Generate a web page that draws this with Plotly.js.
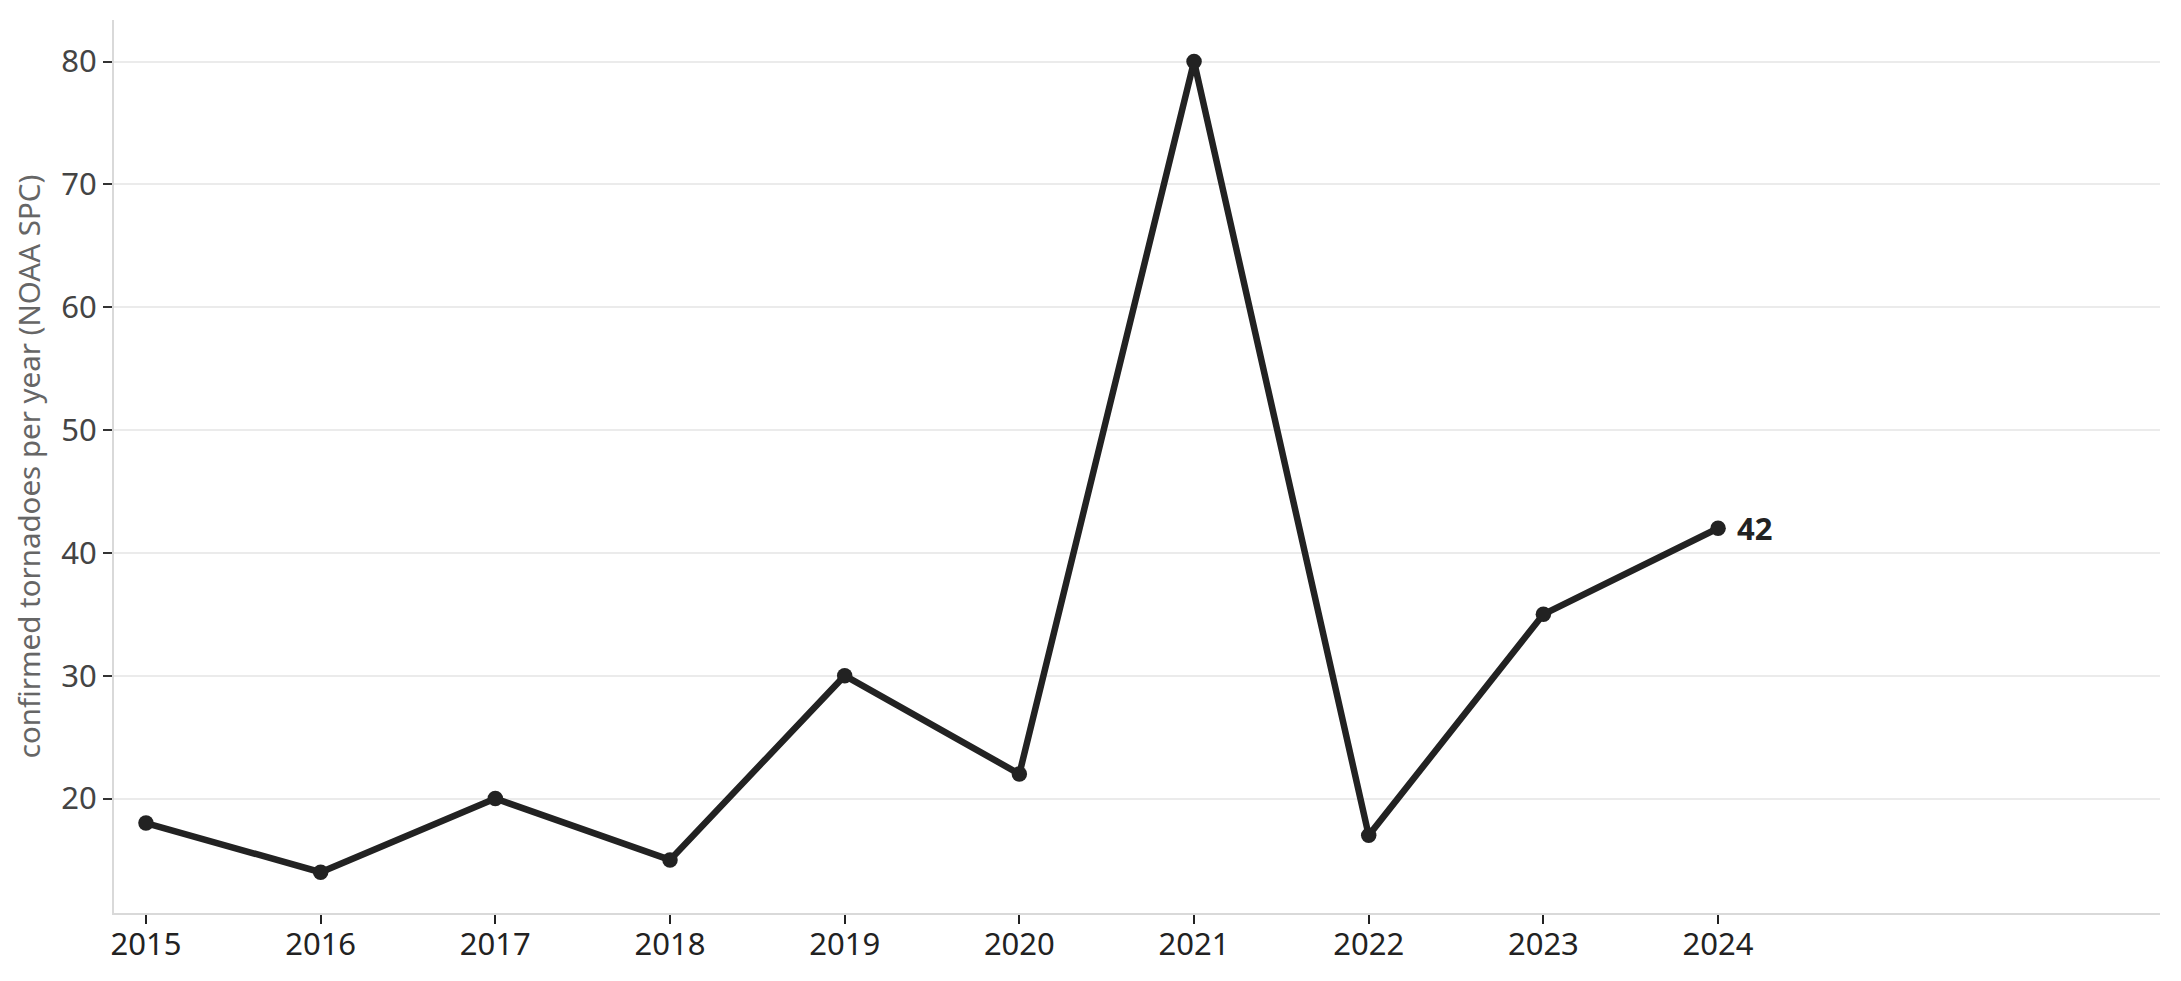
<!DOCTYPE html>
<html>
<head>
<meta charset="utf-8">
<script src="https://cdn.plot.ly/plotly-3.0.1.min.js"></script>
<style>
  html, body { margin: 0; padding: 0; background: #fff; }
  #chart { width: 2181px; height: 981px; }
</style>
</head>
<body>
<div id="chart"></div>
<script>
/* ---------------------------------------------------------------- */
/* DATA */
/* ---------------------------------------------------------------- */
var years = [2015, 2016, 2017, 2018, 2019, 2020, 2021, 2022, 2023, 2024];
var tornadoes = [18, 14, 20, 15, 30, 22, 80, 17, 35, 42];
var yTicks = [20, 30, 40, 50, 60, 70, 80];
var yLabel = 'confirmed tornadoes per year (NOAA SPC)';

var ink = '#222222';
var fontFam = '"Noto Sans", "Open Sans", sans-serif';

/* ---------------------------------------------------------------- */
/* CHART */
/* ---------------------------------------------------------------- */
var trace = {
  x: years,
  y: tornadoes,
  type: 'scatter',
  mode: 'lines+markers',
  line: { color: ink, width: 6.5 },
  marker: { color: ink, size: 15.5 },
  hoverinfo: 'skip'
};

var last = years.length - 1;

var layout = {
  width: 2181,
  height: 981,
  margin: { l: 114, r: 21, t: 20, b: 68 },
  paper_bgcolor: '#ffffff',
  plot_bgcolor: '#ffffff',
  showlegend: false,
  font: { family: fontFam, size: 31, color: ink },
  xaxis: {
    range: [2014.817, 2026.53],
    tickvals: years,
    ticktext: years.map(String),
    showgrid: false,
    zeroline: false,
    showline: true,
    linecolor: '#d9d9d9',
    linewidth: 2,
    ticks: 'outside',
    ticklen: 9,
    tickwidth: 2,
    tickcolor: ink,
    ticklabelstandoff: -6,
    tickfont: { family: fontFam, size: 31, color: ink }
  },
  yaxis: {
    range: [10.68, 83.38],
    tickvals: yTicks,
    showgrid: true,
    gridcolor: '#ebebeb',
    gridwidth: 2,
    zeroline: false,
    showline: true,
    linecolor: '#d9d9d9',
    linewidth: 2,
    ticks: 'outside',
    ticklen: 9,
    tickwidth: 2,
    tickcolor: '#333333',
    tickfont: { family: fontFam, size: 31, color: '#444444' },
    title: { text: yLabel, font: { family: fontFam, size: 29.5, color: '#666666' }, standoff: 12 }
  },
  annotations: [{
    x: years[last],
    y: tornadoes[last],
    xref: 'x',
    yref: 'y',
    text: '<b>' + tornadoes[last] + '</b>',
    showarrow: false,
    xanchor: 'left',
    yanchor: 'middle',
    xshift: 17,
    font: { family: fontFam, size: 31, color: ink }
  }]
};

Plotly.newPlot('chart', [trace], layout, { displayModeBar: false, responsive: false });
</script>
</body>
</html>
